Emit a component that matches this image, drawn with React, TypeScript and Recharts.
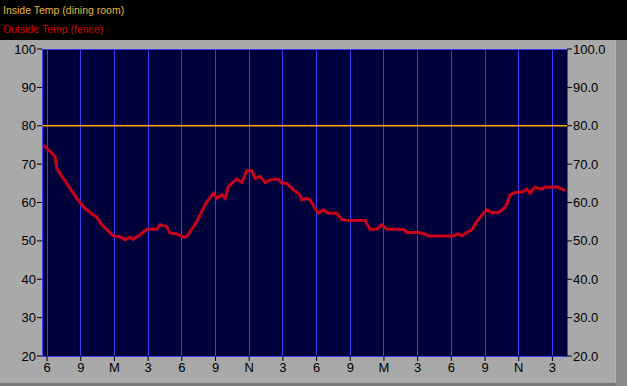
import {CartesianGrid, Line, LineChart, XAxis, YAxis} from "recharts";

// hours after the first "6" tick (6 PM)
const hours = [
    -0.33, 0.27, 0.71, 0.86, 1.45, 2.05, 2.64, 3.23, 3.83, 4.43, 4.87, 5.32, 5.9, 6.5, 6.95, 7.39, 7.66,
    8.28, 8.88, 9.77, 10.06, 10.66, 10.95, 11.55, 12.14, 12.44, 13.03, 13.33, 13.92, 14.22, 14.81, 15.11,
    15.56, 15.85, 16.14, 16.45, 16.89, 17.34, 17.78, 18.23, 18.52, 18.97, 19.41, 19.86, 20.6, 20.9, 21.34,
    21.93, 22.53, 22.68, 23.13, 23.42, 23.86, 24.16, 24.6, 25.05, 25.8, 26.24, 26.69, 28.32, 28.76, 29.36,
    29.8, 30.25, 31.73, 32.03, 33.06, 33.66, 33.95, 36.18, 36.62, 36.93, 37.37, 37.82, 38.26, 38.85, 39.15,
    39.6, 40.19, 40.63, 40.93, 41.23, 41.67, 42.41, 42.72, 43.01, 43.45, 44.05, 44.35, 44.94, 45.39, 45.83,
    46.13,
];
const outsideTemp = [
    75.0, 73.3, 72.0, 68.9, 66.3, 63.7, 61.1, 58.9, 57.4, 56.2, 54.2, 52.9, 51.3, 51.1, 50.3, 51.0, 50.4,
    51.6, 53.0, 53.0, 54.2, 53.7, 52.0, 51.8, 51.1, 51.1, 53.7, 55.0, 58.5, 60.2, 62.4, 61.1,
    62.0, 61.1, 64.1, 65.0, 66.1, 65.2, 68.3, 68.3, 66.3, 66.8, 65.2, 65.9, 66.1, 65.0, 65.0,
    63.3, 62.0, 60.7, 61.1, 60.7, 58.5, 57.2, 58.1, 57.2, 57.2, 55.6, 55.3, 55.3, 53.0, 53.0,
    54.2, 53.0, 53.0, 52.2, 52.2, 51.8, 51.3, 51.3, 51.8, 51.3, 52.2, 52.9, 55.0, 57.2, 58.1,
    57.4, 57.4, 58.3, 59.4, 62.0, 62.6, 62.8, 63.5, 62.4, 64.0, 63.5, 64.0, 64.0, 64.1, 63.5,
    63.1,
];
const insideHours = [-0.45, 46.3];
const insideTemp = [80, 80];

const xTicks = [0, 3, 6, 9, 12, 15, 18, 21, 24, 27, 30, 33, 36, 39, 42, 45];
const xLabels = ["6", "9", "M", "3", "6", "9", "N", "3", "6", "9", "M", "3", "6", "9", "N", "3"];
const yTicks = [20, 30, 40, 50, 60, 70, 80, 90, 100];

const outsideData = hours.map((h, i) => ({h, temp: outsideTemp[i]}));
const insideData = insideHours.map((h, i) => ({h, temp: insideTemp[i]}));

const font = {fontFamily: "'Liberation Sans', Arial, sans-serif", fontSize: 13, fill: "#000"};

const App = () => {
    return (
        <div style={{position: "relative", width: 627, height: 386, background: "#000", overflow: "hidden"}}>
            <style>{"body{margin:0}"}</style>
            <div style={{position: "absolute", left: 3, top: 4, fontFamily: "'Liberation Sans', Arial, sans-serif", fontSize: 10.5, color: "#e8b838"}}>
                Inside Temp (dining room)
            </div>
            <div style={{position: "absolute", left: 3, top: 23, fontFamily: "'Liberation Sans', Arial, sans-serif", fontSize: 10.5, color: "#d00000"}}>
                Outside Temp (fence)
            </div>
            <div style={{position: "absolute", left: 0, top: 40, width: 627, height: 346, background: "#a9a9a9"}}>
                <div style={{position: "absolute", right: 0, top: 0, width: 11, height: 346, background: "#8a8a8a", borderLeft: "1px solid #b4b4b4"}}/>
                <div style={{position: "absolute", left: 0, bottom: 0, width: 616, height: 3, background: "#7a7a7a"}}/>
                <LineChart width={627} height={346} margin={{top: 9, right: 0, left: 0, bottom: 0}}>
                    <CartesianGrid fill="#00003a" stroke="#3c3cf0" strokeWidth={1} fillOpacity={1}
                                   shapeRendering="crispEdges"/>
                    <XAxis dataKey="h" type="number" domain={[-0.45, 46.3]} ticks={xTicks} allowDataOverflow
                           height={30} axisLine={false} tickSize={5} tickMargin={2}
                           tickLine={{stroke: "#000"}} tick={font}
                           tickFormatter={(v: number) => xLabels[xTicks.indexOf(v)] ?? ""}/>
                    <YAxis yAxisId="left" domain={[20, 100]} ticks={yTicks} width={42} axisLine={false}
                           tickSize={5} tickMargin={1} tickLine={{stroke: "#000"}} tick={font}/>
                    <YAxis yAxisId="right" orientation="right" domain={[20, 100]} ticks={yTicks} width={60}
                           axisLine={false} tickSize={5} tickMargin={1} tickLine={{stroke: "#000"}} tick={font}
                           tickFormatter={(v: number) => v.toFixed(1)}/>
                    <Line yAxisId="right" data={insideData} dataKey="temp" stroke="#f0a800" strokeWidth={1.3}
                          dot={false} isAnimationActive={false} type="linear"/>
                    <Line yAxisId="left" data={outsideData} dataKey="temp" stroke="#c8001a" strokeWidth={3}
                          dot={false} isAnimationActive={false} type="linear"/>
                </LineChart>
            </div>
        </div>
    );
};

export default App;
